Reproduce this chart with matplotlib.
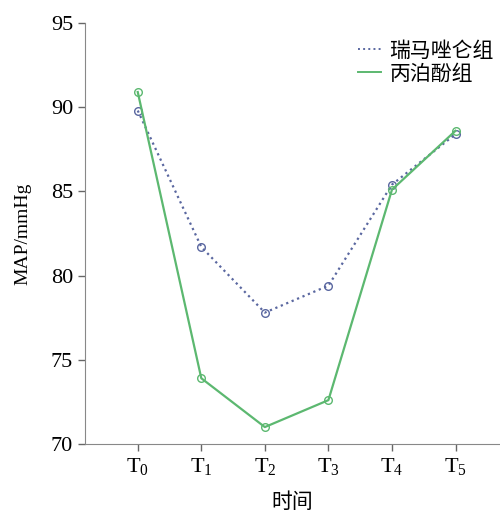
import matplotlib; matplotlib.use("Agg")
import matplotlib.pyplot as plt
from matplotlib.lines import Line2D

plt.rcParams['font.family'] = ['Liberation Serif', 'Noto Sans CJK SC']
plt.rcParams['mathtext.fontset'] = 'custom'
plt.rcParams['mathtext.rm'] = 'Liberation Serif'
plt.rcParams['mathtext.it'] = 'Liberation Serif'

labels = ["T$_0$", "T$_1$", "T$_2$", "T$_3$", "T$_4$", "T$_5$"]
remi = [89.8, 81.7, 77.8, 79.4, 85.4, 88.4]     # 瑞马唑仑组
prop = [90.9, 73.9, 71.0, 72.6, 85.1, 88.6]     # 丙泊酚组
x = list(range(len(labels)))
c_remi = "#5a67a0"
c_prop = "#5cb870"

fig = plt.figure(figsize=(5, 5.12), dpi=100)
ax = fig.add_axes([0.17, 0.133, 0.83, 0.822])
ax.plot(x, remi, ls=":", lw=1.6, color=c_remi, marker="o", ms=5.5, mfc="none", mec=c_remi)
ax.plot(x, prop, ls="-", lw=1.6, color=c_prop, marker="o", ms=5.5, mfc="none", mec=c_prop)

ax.set_xlim(-0.83, 5.7)
ax.set_ylim(70, 95)
ax.set_yticks([70, 75, 80, 85, 90, 95])
ax.set_xticks(x)
ax.set_xticklabels(labels, fontsize=16)
ax.tick_params(axis="y", labelsize=16)
ax.tick_params(color="#666666", length=5, width=1)
for s in ["top", "right"]:
    ax.spines[s].set_visible(False)
for s in ["left", "bottom"]:
    ax.spines[s].set_color("#888888")
ax.set_ylabel("MAP/mmHg", fontsize=14, labelpad=14)
ax.set_xlabel("时间", fontsize=15, family=["Noto Sans CJK SC"], labelpad=10)
handles = [Line2D([], [], ls=":", lw=1.4, color=c_remi),
           Line2D([], [], ls="-", lw=1.4, color=c_prop)]
ax.legend(handles, ["瑞马唑仑组", "丙泊酚组"], loc="upper right", frameon=False,
          prop={"family": "Noto Sans CJK SC", "size": 15},
          handlelength=1.1, handletextpad=0.4, labelspacing=0.05,
          bbox_to_anchor=(1.03, 1.005))
fig.savefig("out.png", dpi=100)
